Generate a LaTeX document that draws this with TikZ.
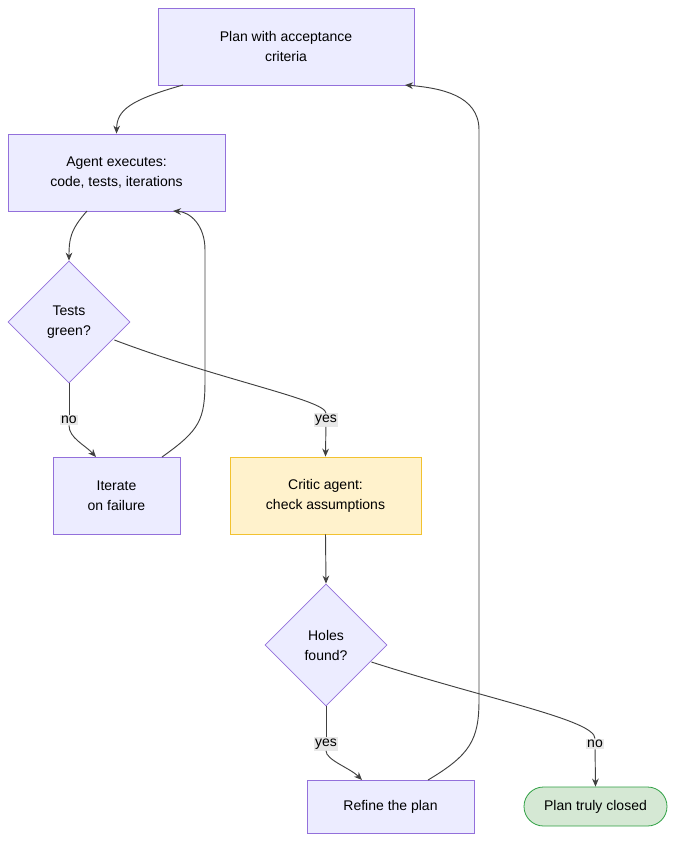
\documentclass[tikz,border=0pt]{standalone}
\usepackage{fontspec}
\setmainfont{Liberation Sans}
\usetikzlibrary{shapes.geometric,arrows.meta}
\definecolor{boxfill}{HTML}{ECECFF}
\definecolor{boxline}{HTML}{9370DB}
\definecolor{critfill}{HTML}{FFF2CC}
\definecolor{critline}{HTML}{F2C230}
\definecolor{donefill}{HTML}{D5E8D4}
\definecolor{doneline}{HTML}{2EA043}
\definecolor{lblfill}{HTML}{E8E8E8}
\tikzset{
    box/.style={draw=boxline, fill=boxfill, line width=0.6pt, align=center, font=\fontsize{10.5}{15}\selectfont, inner sep=0pt},
    dia/.style={draw=boxline, fill=boxfill, line width=0.6pt, diamond, align=center, font=\fontsize{10.5}{15}\selectfont, minimum width=91.5pt, minimum height=91.5pt, inner sep=0pt},
    e1/.style={draw=black!75, -{Stealth[length=6pt,width=5pt]}, line width=0.7pt},
    e0/.style={draw=black!75, line width=0.7pt},
    lbl/.style={fill=lblfill, font=\fontsize{10.5}{12}\selectfont, inner sep=1pt}
}
\begin{document}
\begin{tikzpicture}[x=0.75pt, y=-0.75pt]
\useasboundingbox (0,0) rectangle (683,852);

% Nodes
\node[box, minimum width=192pt, minimum height=57.75pt] (plan) at (286,46.5) {Plan with acceptance\\criteria};
\node[box, minimum width=162.75pt, minimum height=57.75pt] (agent) at (116.5,172.5) {Agent executes:\\code, tests, iterations};
\node[dia] (tests) at (69,322) {Tests\\green?};
\node[box, minimum width=95.25pt, minimum height=57.75pt] (iter) at (116.5,495.5) {Iterate\\on failure};
\node[box, draw=critline, fill=critfill, minimum width=143.25pt, minimum height=57.75pt] (critic) at (325.5,495.5) {Critic agent:\\check assumptions};
\node[dia] (holes) at (326,645) {Holes\\found?};
\node[box, minimum width=125.25pt, minimum height=39.75pt] (refine) at (390.5,806.5) {Refine the plan};
\node[box, draw=doneline, fill=donefill, rounded corners=14.6pt, minimum width=107.25pt, minimum height=29.25pt] (closed) at (595.5,806.5) {Plan truly closed};

% Edge labels
\node[lbl] (lno1) at (69,420) {no};
\node[lbl] (lyes1) at (326,420) {yes};
\node[lbl] (lyes2) at (326,744) {yes};
\node[lbl] (lno2) at (595,744) {no};

% Edges
\draw[e1] (183,85) .. controls (130,100) and (117,110) .. (agent.north);
\draw[e1] (87,211) .. controls (70,230) and (69,240) .. (tests.north);
\draw[e0] (tests.south) -- (lno1);
\draw[e1] (lno1) .. controls (69,438) and (85,445) .. (96,457);
\draw[e0] (tests.east) ++(-16,18) .. controls (220,380) and (326,400) .. (lyes1);
\draw[e1] (lyes1) -- (critic.north);
\draw[e1] (162,457) .. controls (200,430) and (205,420) .. (205,380) -- (205,250) .. controls (205,225) and (190,212) .. (173,211);
\draw[e1] (critic.south) -- (holes.north);
\draw[e0] (holes.south) -- (lyes2);
\draw[e1] (lyes2) .. controls (326,760) and (350,768) .. (362,780);
\draw[e0] (holes.east) ++(-16,17) .. controls (490,700) and (595,720) .. (lno2);
\draw[e1] (lno2) -- (closed.north);
\draw[e1] (428,780) .. controls (470,755) and (479,740) .. (479,700) -- (479,130) .. controls (479,95) and (440,88) .. (405,85);
\end{tikzpicture}
\end{document}
